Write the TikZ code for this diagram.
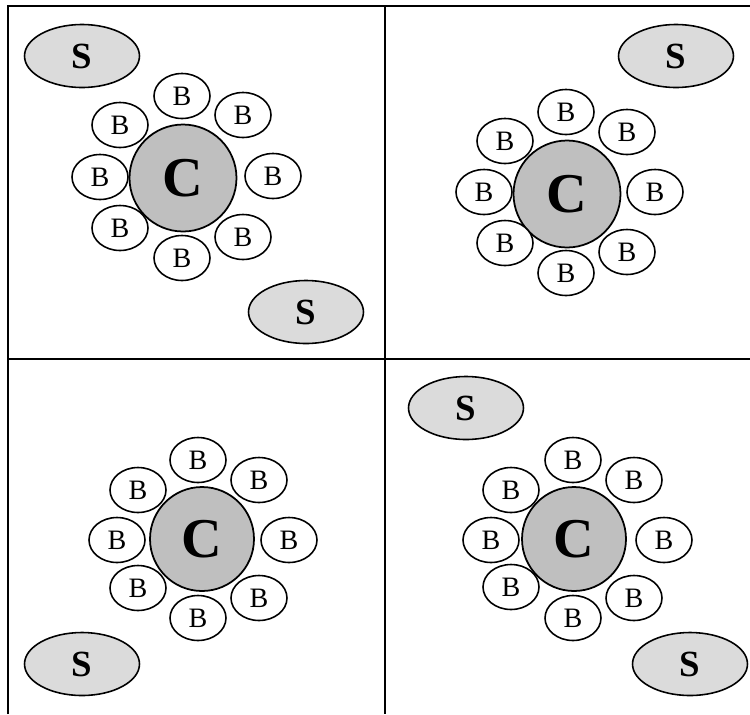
\documentclass[tikz,border=0pt]{standalone}
\usepackage{fontspec}
\setmainfont{Liberation Serif}
\usetikzlibrary{shapes.geometric}
\tikzset{
  core/.style={circle, draw, line width=1pt, fill=black!50!white!50, minimum size=2.14cm, inner sep=0pt, font=\fontsize{32}{32}\selectfont\bfseries},
  bead/.style={ellipse, draw, line width=0.9pt, fill=white, minimum width=1.12cm, minimum height=0.9cm, inner sep=0pt, font=\fontsize{16}{16}\selectfont},
  side/.style={ellipse, draw, line width=0.9pt, fill=black!14, minimum width=2.3cm, minimum height=1.26cm, inner sep=0pt, font=\fontsize{21}{21}\selectfont\bfseries}
}
\begin{document}
\begin{tikzpicture}[x=0.02cm, y=-0.02cm]
\useasboundingbox (0,0) rectangle (750,714);
\draw[line width=1pt] (8,714) -- (8,6) -- (750,6);
\draw[line width=1pt] (385,6) -- (385,714);
\draw[line width=1pt] (8,359) -- (750,359);

% top left
\node[core] (cid0) at (183,178){C};
\node[bead] (bid00) at (182,96){B};
\node[bead] (bid01) at (243,115){B};
\node[bead] (bid02) at (273,176){B};
\node[bead] (bid03) at (243,237){B};
\node[bead] (bid04) at (182,258){B};
\node[bead] (bid05) at (120,228){B};
\node[bead] (bid06) at (100,177){B};
\node[bead] (bid07) at (120,125){B};
\node[side] (sid00) at (82,56){S};
\node[side] (sid01) at (306,312){S};

% top right
\node[core] (cid1) at (567,194){C};
\node[bead] (bid10) at (566,112){B};
\node[bead] (bid11) at (627,132){B};
\node[bead] (bid12) at (655,192){B};
\node[bead] (bid13) at (627,252){B};
\node[bead] (bid14) at (566,273){B};
\node[bead] (bid15) at (505,243){B};
\node[bead] (bid16) at (484,192){B};
\node[bead] (bid17) at (505,141){B};
\node[side] (sid10) at (676,56){S};

% bottom left
\node[core, minimum size=2.08cm] (cid2) at (202,539){C};
\node[bead] (bid20) at (198,460){B};
\node[bead] (bid21) at (259,480){B};
\node[bead] (bid22) at (289,540){B};
\node[bead] (bid23) at (259,598){B};
\node[bead] (bid24) at (198,618){B};
\node[bead] (bid25) at (138,588){B};
\node[bead] (bid26) at (117,540){B};
\node[bead] (bid27) at (138,490){B};
\node[side] (sid20) at (82,664){S};

% bottom right
\node[core, minimum size=2.08cm] (cid3) at (574,539){C};
\node[bead] (bid30) at (573,460){B};
\node[bead] (bid31) at (634,480){B};
\node[bead] (bid32) at (664,540){B};
\node[bead] (bid33) at (634,598){B};
\node[bead] (bid34) at (573,618){B};
\node[bead] (bid35) at (511,587){B};
\node[bead] (bid36) at (491,540){B};
\node[bead] (bid37) at (511,490){B};
\node[side] (sid30) at (466,408){S};
\node[side] (sid31) at (690,664){S};

\end{tikzpicture}
\end{document}
